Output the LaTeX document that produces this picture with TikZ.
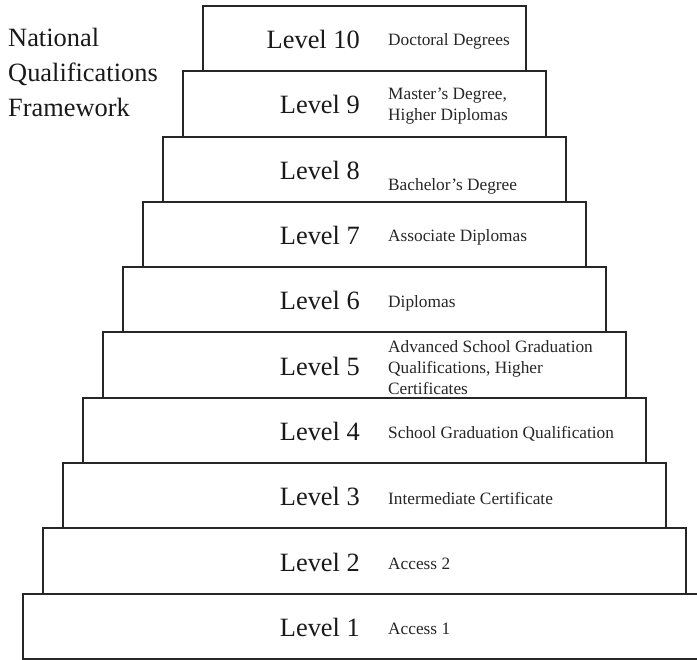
\documentclass[tikz,border=0pt]{standalone}
\usepackage{fontspec}
\setmainfont{Liberation Serif}
\usetikzlibrary{positioning}

\tikzset{
  stepbox/.style={draw=black!85, line width=2pt},
  lvltext/.style={font=\fontsize{26.4}{32}\selectfont, text=black!90, inner sep=0pt, anchor=east},
  desctext/.style={font=\fontsize{17.3}{21}\selectfont, text=black!85, inner sep=0pt, align=left},
}

\begin{document}
\begin{tikzpicture}[x=1pt, y=1pt]
  \useasboundingbox (0,0) rectangle (697,660);
  \clip (0,0) rectangle (697,660);
  % the ten steps, widest at the bottom
  \foreach \n/\dy/\desc in {
      1/-2/{Access 1},
      2/-2/{Access 2},
      3/-2/{Intermediate Certificate},
      4/-2/{School Graduation Qualification},
      5/-1/{Advanced School Graduation\\Qualifications, Higher\\Certificates},
      6/-2/{Diplomas},
      7/-2/{Associate Diplomas},
      8/-16/{Bachelor's Degree},
      9/-1/{Master's Degree,\\Higher Diplomas},
      10/-2/{Doctoral Degrees}} {
    \pgfmathsetmacro{\w}{683-40.1*(\n-1)}
    \pgfmathsetmacro{\cy}{33.65+65.3*(\n-1)}
    \node[stepbox, minimum width=\w pt, minimum height=65.3pt] (lvl\n) at (364.5,\cy) {};
    \node[lvltext] (lab\n) at (360,\cy-1) {Level \n};
    \node[desctext, right=28pt of lab\n.east, yshift=\dy pt] (desc\n) {\desc};
  }
  \node[font=\fontsize{26.4}{35}\selectfont, text=black!90, inner sep=0pt,
        align=left, anchor=north west] (title) at (8,632.5)
    {National\\Qualifications\\Framework};
\end{tikzpicture}
\end{document}
